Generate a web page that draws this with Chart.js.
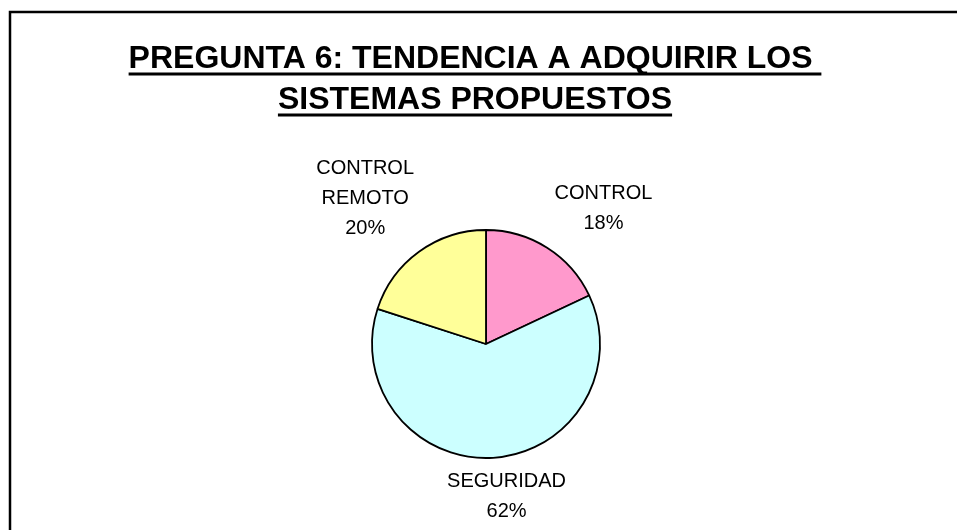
<!DOCTYPE html>
<html>
<head>
<meta charset="utf-8">
<script src="https://cdn.jsdelivr.net/npm/chart.js@4"></script>
<style>
  html, body { margin: 0; padding: 0; background: #ffffff; }
  #wrap { width: 957px; height: 530px; position: relative; }
</style>
</head>
<body>
<div id="wrap"><canvas id="c" width="957" height="530"></canvas></div>
<script>
// Survey answers, question 6
const categories = ['CONTROL', 'SEGURIDAD', 'CONTROL REMOTO'];
const percentages = [18, 62, 20];
const labelLines = [['CONTROL'], ['SEGURIDAD'], ['CONTROL', 'REMOTO']];
const titleLines = ['PREGUNTA 6: TENDENCIA A ADQUIRIR LOS ', 'SISTEMAS PROPUESTOS'];

const sliceColors = ['#FF99CC', '#CCFFFF', '#FFFF99'];

// Label box centres, in units of the pie radius, relative to the pie centre
const labelPlacement = [
  { dx: 1.03, dy: -1.19 },
  { dx: 0.18, dy: 1.34 },
  { dx: -1.06, dy: -1.28 }
];

const framePlugin = {
  id: 'frameAndTitle',
  beforeDraw(chart) {
    const ctx = chart.ctx;
    ctx.save();
    ctx.fillStyle = '#ffffff';
    ctx.fillRect(0, 0, chart.width, chart.height);
    // outer frame (runs past the right and bottom edges)
    ctx.strokeStyle = '#000000';
    ctx.lineWidth = 2.5;
    ctx.strokeRect(10, 12, chart.width + 20, chart.height + 20);

    // underlined title
    ctx.fillStyle = '#000000';
    ctx.font = 'bold 32px "Liberation Sans", Arial, sans-serif';
    ctx.textAlign = 'center';
    ctx.textBaseline = 'alphabetic';
    const cx = 475;
    const baselines = [68, 109];
    titleLines.forEach((t, i) => {
      const w = ctx.measureText(t).width;
      ctx.fillText(t, cx, baselines[i]);
      ctx.fillRect(cx - w / 2, baselines[i] + 4.5, w, 3);
    });
    ctx.restore();
  },
  afterDatasetsDraw(chart) {
    const ctx = chart.ctx;
    const meta = chart.getDatasetMeta(0);
    const arc0 = meta.data[0];
    const px = arc0.x, py = arc0.y, r = arc0.outerRadius;
    const total = percentages.reduce((a, b) => a + b, 0);
    ctx.save();
    ctx.fillStyle = '#000000';
    ctx.font = '20px "Liberation Sans", Arial, sans-serif';
    ctx.textAlign = 'center';
    ctx.textBaseline = 'middle';
    const lineH = 30;
    meta.data.forEach((arc, i) => {
      const lines = labelLines[i].concat([Math.round(percentages[i] / total * 100) + '%']);
      const bx = px + labelPlacement[i].dx * r;
      const by = py + labelPlacement[i].dy * r;
      const top = by - (lines.length - 1) * lineH / 2;
      lines.forEach((ln, k) => ctx.fillText(ln, bx, top + k * lineH));
    });
    ctx.restore();
  }
};

new Chart(document.getElementById('c'), {
  type: 'pie',
  data: {
    labels: categories,
    datasets: [{
      data: percentages,
      backgroundColor: sliceColors,
      borderColor: '#000000',
      borderWidth: 1.8,
      radius: 114
    }]
  },
  options: {
    responsive: false,
    animation: false,
    rotation: 0,
    layout: { padding: { left: 15, right: 0, top: 158, bottom: 0 } },
    plugins: {
      legend: { display: false },
      title: { display: false },
      tooltip: { enabled: false }
    }
  },
  plugins: [framePlugin]
});
</script>
</body>
</html>
